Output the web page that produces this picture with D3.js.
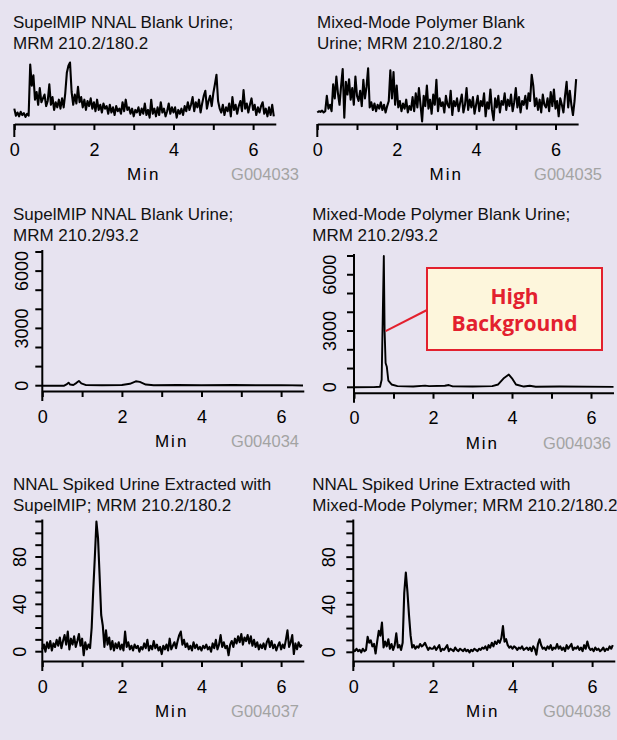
<!DOCTYPE html>
<html>
<head>
<meta charset="utf-8">
<script src="https://cdn.jsdelivr.net/npm/d3@7"></script>
<style>
  body { margin: 0; background: #e7e3f0; }
  svg { display: block; font-family: "Liberation Sans", Arial, Helvetica, sans-serif; }
</style>
</head>
<body>
<div id="chart"></div>
<script>
// sampling interval (min) of the noisy traces
const step = 0.04;

// MRM 210.2/180.2, blank urine, SupelMIP (relative response, no y axis)
const supelBlank180 = [
  24, 13, 18, 12, 19, 14, 17, 11, 16, 13,
  93, 60, 76, 38, 50, 30, 56, 34, 40, 46,
  28, 36, 62, 30, 42, 22, 34, 26, 38, 24,
  40, 26, 48, 80, 91, 96, 50, 30, 46, 32,
  58, 34, 42, 26, 38, 22, 36, 28, 40, 24,
  34, 20, 38, 22, 30, 18, 32, 24, 28, 16,
  30, 18, 26, 14, 28, 20, 24, 16, 34, 20,
  38, 22, 26, 16, 24, 12, 22, 18, 26, 14,
  24, 16, 32, 14, 22, 10, 38, 16, 24, 12,
  26, 14, 34, 18, 24, 12, 20, 32, 16, 26,
  18, 26, 10, 22, 16, 24, 14, 28, 20, 34,
  22, 30, 42, 20, 34, 26, 38, 18, 32, 44,
  52, 24, 36, 44, 28, 48, 62, 77, 36, 24,
  18, 30, 14, 26, 20, 32, 12, 42, 22, 30,
  16, 28, 36, 20, 53, 24, 32, 18, 30, 40,
  22, 30, 14, 26, 18, 28, 34, 16, 24, 12,
  26, 14, 30, 12
];

// MRM 210.2/180.2, blank urine, mixed-mode polymer
const mixedBlank180 = [
  18, 20, 19, 21, 18, 20, 44, 24, 30, 20,
  62, 40, 74, 48, 30, 60, 86, 10, 66, 46,
  70, 38, 56, 30, 74, 44, 36, 52, 28, 69,
  40, 58, 87, 26, 34, 22, 32, 20, 30, 24,
  34, 22, 30, 18, 28, 36, 84, 40, 81, 30,
  60, 26, 36, 20, 32, 24, 38, 18, 28, 22,
  42, 20, 48, 26, 56, 30, 4, 44, 28, 60,
  24, 38, 16, 46, 30, 69, 20, 40, 28, 34,
  18, 44, 30, 26, 52, 14, 36, 28, 40, 20,
  34, 46, 18, 30, 56, 22, 38, 26, 42, 16,
  30, 44, 20, 36, 28, 48, 12, 34, 24, 54,
  22, 6, 40, 26, 44, 18, 36, 30, 48, 22,
  38, 28, 46, 20, 34, 56, 26, 42, 18, 36,
  30, 44, 24, 48, 36, 77, 60, 28, 40, 22,
  38, 18, 46, 30, 26, 40, 20, 50, 28, 54,
  24, 36, 12, 40, 30, 18, 44, 66, 26, 52,
  30, 14, 36, 70
];

// MRM 210.2/93.2, blank urine: [min, counts]
const supelBlank93 = [
  [0, 0], [0.55, 0], [0.62, 80], [0.66, 160], [0.7, 60], [0.78, 40], [0.86, 150],
  [0.92, 250], [0.98, 120], [1.1, 30], [1.5, 20], [2.0, 40], [2.2, 100], [2.35, 230],
  [2.45, 200], [2.6, 60], [2.8, 20], [3.4, 40], [4.0, 20], [4.8, 40], [5.5, 20],
  [6.0, 30], [6.55, 10]
];

const mixedBlank93 = [
  [0, 0], [0.5, 10], [0.66, 30], [0.7, 400], [0.73, 4000], [0.755, 7000], [0.775, 3000],
  [0.8, 1300], [0.83, 1100], [0.87, 350], [0.95, 150], [1.1, 60], [1.5, 40], [1.8, 90],
  [1.9, 60], [2.3, 80], [2.4, 120], [2.5, 50], [3.0, 40], [3.5, 60], [3.65, 150],
  [3.8, 500], [3.92, 680], [4.0, 480], [4.1, 150], [4.3, 40], [4.45, 80], [4.6, 30],
  [5.2, 40], [6.57, 20]
];

// MRM 210.2/180.2, NNAL spiked urine (counts)
const supelSpiked180 = [
  2, 6, 0, 8, 3, 9, 1, 7, 4, 10,
  5, 12, 3, 9, 14, 6, 17, 2, 11, 6,
  13, 4, 9, 15, 5, 11, -3, 8, 2, 6,
  3, 20, 52, 80, 110, 96, 64, 31, 22, 4,
  18, 6, 12, 2, 9, 1, 7, 3, 8, 2,
  6, 1, 17, 4, 8, 2, 5, 1, 6, 3,
  5, 0, 4, 2, 7, 3, 10, 1, 5, 2,
  9, 3, 6, 1, 4, -2, 5, 2, 6, 1,
  11, 2, 5, 8, 3, 9, 14, 17, 6, 10,
  4, 7, 2, 5, 1, 8, 3, 6, 2, 4,
  1, 5, 3, 6, 2, 4, 0, 7, 3, 10,
  2, 6, 14, 4, 8, 3, 5, -3, 6, 9,
  4, 11, 7, 13, 8, 15, 6, 12, 9, 14,
  7, 13, 5, 10, 4, 8, 2, 6, 3, 7,
  2, 8, 11, 4, 9, 3, 6, 1, 5, 8,
  2, 6, 3, 10, 18, 4, 8, 14, -2, 7,
  2, 8, 4, 6
];

const mixedSpiked180 = [
  2, 1, 3, 1, 2, 0, 3, 1, 2, 13,
  8, 10, 5, 7, -1, 9, 18, 14, 25, 4,
  9, 5, 11, 3, 7, 2, 6, 16, 4, 6,
  2, 8, 50, 67, 51, 31, 14, 4, 6, 3,
  5, 4, 7, 5, 6, 8, 5, 2, 4, 3,
  3, 5, 2, 4, 6, 1, 3, 2, 4, 6,
  1, 3, 2, 1, 4, 2, 1, 3, 2, 1,
  3, 1, 2, 0, 2, 1, 3, 2, 1, 3,
  2, 4, 3, 5, 2, 6, 4, 8, 5, 9,
  7, 10, 8, 12, 22, 9, 11, 6, 4, 5,
  3, 5, 4, 2, 4, 3, 5, 2, 3, 4,
  2, 4, 1, 5, 3, -2, 7, 11, 6, 3,
  4, 2, 5, 3, 6, 2, 4, 3, 7, 3,
  5, 2, 4, 1, 6, 3, 5, 7, 2, 4,
  3, 5, 2, 4, 1, 6, 3, 9, 4, 2,
  3, 1, 4, 2, 3, 1, 2, 4, 1, 3,
  2, 5, 3, 6
];

const xTicks = [0, 1, 2, 3, 4, 5, 6];
const xLabels = [0, 2, 4, 6];
const countTicks = [0, 1000, 2000, 3000, 4000, 5000, 6000, 7000];
const countLabels = [0, 3000, 6000];
const spikeTicks = [0, 10, 20, 30, 40, 50, 60, 70, 80, 90, 100, 110];
const spikeLabels = [0, 40, 80];

const toPairs = arr => arr.map((v, i) => [i * step, v]);

const panels = [
  { title: ["SupelMIP NNAL Blank Urine;", "MRM 210.2/180.2"], code: "G004033",
    data: toPairs(supelBlank180), noisy: true, titleX: 13, titleY: 28,
    left: 14.3, ppm: 39.8, axisY: 124, yDomain: [0, 100], yRange: [124, 60], codeRight: 299 },
  { title: ["Mixed-Mode Polymer Blank", "Urine; MRM 210.2/180.2"], code: "G004035",
    data: toPairs(mixedBlank180), noisy: true, titleX: 317, titleY: 28,
    left: 317.3, ppm: 39.7, axisY: 124, yDomain: [0, 100], yRange: [124, 60], codeRight: 602 },
  { title: ["SupelMIP NNAL Blank Urine;", "MRM 210.2/93.2"], code: "G004034",
    data: supelBlank93, titleX: 13, titleY: 220,
    left: 42.3, ppm: 39.8, axisY: 391, yDomain: [0, 7000], yRange: [385.7, 252],
    yTicks: countTicks, yLabels: countLabels, labelOff: 14, codeRight: 299 },
  { title: ["Mixed-Mode Polymer Blank Urine;", "MRM 210.2/93.2"], code: "G004036",
    data: mixedBlank93, titleX: 312.3, titleY: 220,
    left: 354, ppm: 39.5, axisY: 392.7, yDomain: [0, 7000], yRange: [387.3, 256],
    yTicks: countTicks, yLabels: countLabels, labelOff: 18, codeRight: 611 },
  { title: ["NNAL Spiked Urine Extracted with", "SupelMIP; MRM 210.2/180.2"], code: "G004037",
    data: toPairs(supelSpiked180), noisy: true, titleX: 13, titleY: 490,
    left: 42.3, ppm: 39.8, axisY: 661, yDomain: [0, 110], yRange: [651.7, 521.5],
    yTicks: spikeTicks, yLabels: spikeLabels, labelOff: 16, codeRight: 299 },
  { title: ["NNAL Spiked Urine Extracted with", "Mixed-Mode Polymer; MRM 210.2/180.2"], code: "G004038",
    data: toPairs(mixedSpiked180), noisy: true, titleX: 312.3, titleY: 490,
    left: 353.3, ppm: 39.8, axisY: 661, yDomain: [0, 110], yRange: [652.3, 521.5],
    yTicks: spikeTicks, yLabels: spikeLabels, labelOff: 18, codeRight: 611 }
];

const svg = d3.select("#chart").append("svg")
  .attr("width", 617)
  .attr("height", 740);

svg.append("rect")
  .attr("width", 617)
  .attr("height", 740)
  .attr("fill", "#e7e3f0");

function drawPanel(p) {
  const g = svg.append("g");
  const x = d3.scaleLinear().domain([0, 6.57]).range([p.left, p.left + 6.57 * p.ppm]);
  const y = d3.scaleLinear().domain(p.yDomain).range(p.yRange);

  // title, two lines
  const title = g.append("text")
    .attr("font-size", 17)
    .attr("fill", "#111");
  p.title.forEach((line, i) => {
    title.append("tspan")
      .attr("x", p.titleX)
      .attr("y", p.titleY + i * 20.5)
      .text(line);
  });

  // x axis
  const xa = g.append("g")
    .attr("transform", "translate(0," + p.axisY + ")")
    .call(d3.axisBottom(x)
      .tickValues(xTicks)
      .tickSize(6)
      .tickSizeOuter(0)
      .tickPadding(13)
      .tickFormat(d => xLabels.includes(d) ? d : ""));
  xa.select(".domain").attr("stroke", "#000").attr("stroke-width", 2);
  xa.selectAll(".tick line").attr("stroke", "#000").attr("stroke-width", 2);
  xa.selectAll(".tick text")
    .attr("font-size", 18)
    .attr("font-family", "Liberation Sans, Arial, sans-serif")
    .attr("fill", "#000");

  if (p.yTicks) {
    // y axis line runs a bit below the x axis
    g.append("line")
      .attr("x1", x(0)).attr("x2", x(0))
      .attr("y1", y(p.yDomain[1]) - 2)
      .attr("y2", p.axisY + 10)
      .attr("stroke", "#000")
      .attr("stroke-width", 2);

    g.selectAll(".ytick")
      .data(p.yTicks)
      .join("line")
      .attr("x1", x(0) - 7).attr("x2", x(0))
      .attr("y1", d => y(d)).attr("y2", d => y(d))
      .attr("stroke", "#000")
      .attr("stroke-width", 2);

    g.selectAll(".ylabel")
      .data(p.yLabels)
      .join("text")
      .attr("transform", d => "translate(" + (x(0) - p.labelOff) + "," + y(d) + ") rotate(-90)")
      .attr("text-anchor", "middle")
      .attr("font-size", 18)
      .attr("fill", "#000")
      .text(d => d);
  } else {
    // stub under the zero tick
    g.append("line")
      .attr("x1", x(0)).attr("x2", x(0))
      .attr("y1", p.axisY).attr("y2", p.axisY + 13)
      .attr("stroke", "#000")
      .attr("stroke-width", 2);
  }

  // trace
  const line = d3.line()
    .x(d => x(d[0]))
    .y(d => y(d[1]));

  g.append("path")
    .datum(p.data)
    .attr("d", line)
    .attr("fill", "none")
    .attr("stroke", "#000")
    .attr("stroke-width", p.noisy ? 2.1 : 1.9)
    .attr("stroke-linejoin", "round");

  // axis title and figure code
  const labY = p.axisY + 56;
  g.append("text")
    .attr("x", x(3.25))
    .attr("y", labY)
    .attr("text-anchor", "middle")
    .attr("font-size", 17)
    .attr("letter-spacing", 2)
    .attr("fill", "#000")
    .text("Min");

  g.append("text")
    .attr("x", p.codeRight)
    .attr("y", labY)
    .attr("text-anchor", "end")
    .attr("font-size", 16.5)
    .attr("fill", "#a3a3a3")
    .text(p.code);

  return { x, y };
}

const scales = panels.map(drawPanel);

// callout on the mixed-mode 93.2 panel
const s4 = scales[3];
const callout = svg.append("g");
callout.append("line")
  .attr("x1", s4.x(0.8)).attr("y1", s4.y(3000))
  .attr("x2", 427).attr("y2", 310)
  .attr("stroke", "#e3202e")
  .attr("stroke-width", 2);
callout.append("rect")
  .attr("x", 427).attr("y", 268)
  .attr("width", 175).attr("height", 82)
  .attr("fill", "#fdf6dc")
  .attr("stroke", "#e3202e")
  .attr("stroke-width", 2);
callout.append("text")
  .attr("x", 514.5).attr("y", 303.5)
  .attr("text-anchor", "middle")
  .attr("font-family", "'Open Sans', sans-serif")
  .attr("font-weight", 700)
  .attr("font-size", 21)
  .attr("fill", "#e3202e")
  .text("High");
callout.append("text")
  .attr("x", 514.5).attr("y", 330.5)
  .attr("text-anchor", "middle")
  .attr("font-family", "'Open Sans', sans-serif")
  .attr("font-weight", 700)
  .attr("font-size", 21)
  .attr("fill", "#e3202e")
  .text("Background");
</script>
</body>
</html>
